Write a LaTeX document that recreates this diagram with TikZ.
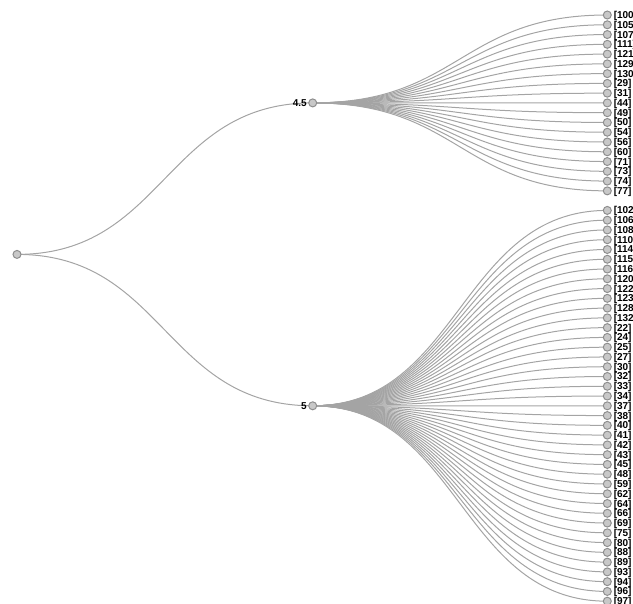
\documentclass[tikz,border=0pt]{standalone}
\usepackage{fontspec}
\setmainfont{Liberation Sans}
\definecolor{linkgray}{HTML}{A4A4A4}
\definecolor{nodefill}{HTML}{C8C8C8}
\definecolor{nodestroke}{HTML}{8E8E8E}
\pgfdeclarelayer{bg}
\pgfsetlayers{bg,main}
\begin{document}
\begin{tikzpicture}[x=0.75pt,y=-0.75pt,
  lnk/.style={draw=linkgray, line width=0.75pt},
  dot/.style={circle, fill=nodefill, draw=nodestroke, line width=0.75pt, minimum size=6pt, inner sep=0pt},
  lbl/.style={font=\bfseries\fontsize{7.5}{9}\selectfont, text=black, inner sep=0pt}]
\useasboundingbox (0,0) rectangle (633,604);
\clip (0,0) rectangle (633,604);
% root and middle nodes
\node[dot] (root) at (17,254.4) {};
\node[dot] (m1) at (312.7,102.9) {};
\node[dot] (m2) at (312.7,405.8) {};
\node[lbl, anchor=base east] (m1l) at (307,106.4) {4.5};
\node[lbl, anchor=base east] (m2l) at (307,409.3) {5};
\begin{pgfonlayer}{bg}
  \draw[lnk] (root.center) .. controls +(147.85,0) and +(-147.85,0) .. (m1.center);
  \draw[lnk] (root.center) .. controls +(147.85,0) and +(-147.85,0) .. (m2.center);
\end{pgfonlayer}
% top group leaves
\foreach \t [count=\i from 0] in {100,105,107,111,121,129,130,29,31,44,49,50,54,56,60,71,73,74,77} {
  \pgfmathsetmacro\yy{15+\i*9.77}
  \node[dot] (t\i) at (607.3,\yy) {};
  \node[lbl, anchor=base west] (tl\i) at (613.5,\yy+3.5) {[\t]};
  \begin{pgfonlayer}{bg}
    \draw[lnk] (m1.center) .. controls +(147.3,0) and +(-147.3,0) .. (t\i.center);
  \end{pgfonlayer}
}
% bottom group leaves
\foreach \t [count=\i from 0] in {102,106,108,110,114,115,116,120,122,123,128,132,22,24,25,27,30,32,33,34,37,38,40,41,42,43,45,48,59,62,64,66,69,75,80,88,89,93,94,96,97} {
  \pgfmathsetmacro\yy{15+(\i+20)*9.77}
  \node[dot] (b\i) at (607.3,\yy) {};
  \node[lbl, anchor=base west] (bl\i) at (613.5,\yy+3.5) {[\t]};
  \begin{pgfonlayer}{bg}
    \draw[lnk] (m2.center) .. controls +(147.3,0) and +(-147.3,0) .. (b\i.center);
  \end{pgfonlayer}
}
\end{tikzpicture}
\end{document}
